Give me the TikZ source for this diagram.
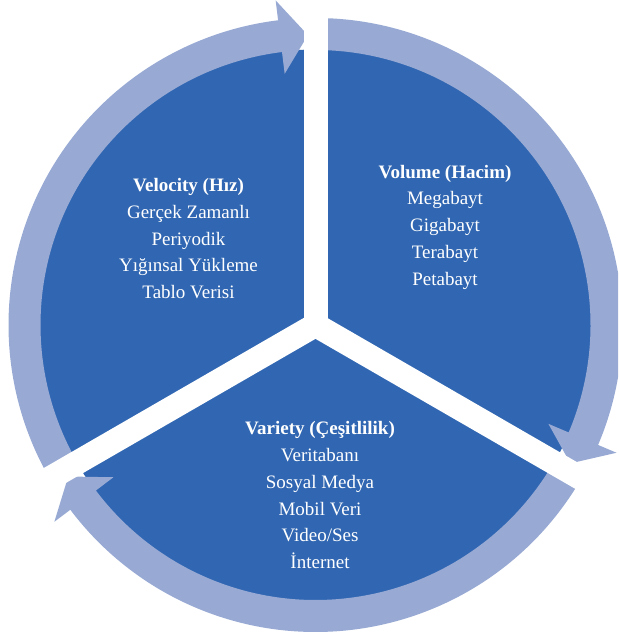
\documentclass[tikz,border=0pt]{standalone}
\usepackage{fontspec}
\setmainfont{Liberation Serif}
\definecolor{pieblue}{RGB}{49,103,178}
\definecolor{ringblue}{RGB}{152,170,212}
\begin{document}
\begin{tikzpicture}[
  lbl/.style={text=white, font=\fontsize{19pt}{22pt}\selectfont, anchor=base, inner sep=0pt},
  ringarrow/.style={fill=ringblue, draw=none},
  gapline/.style={draw=white, line width=24pt}
]
\useasboundingbox (0,0) rectangle (618pt,639pt);
\clip (0,0) rectangle (618pt,639pt);
\fill[white] (0,0) rectangle (618pt,639pt);
\coordinate (C) at (315.5pt,314pt);
% pie
\fill[pieblue] (C) circle[radius=275.5pt];
% ring arrows: tail angle, head angle
\begin{scope}[shift={(C)}]
\foreach \ta/\th in {210/90, 90/-30, -30/-150}{
  \pgfmathsetmacro{\tb}{\th+7}
  \pgfmathsetmacro{\tt}{\th+1.5}
  \fill[ringarrow] (\ta:307pt) arc[start angle=\ta, end angle=\tb, radius=307pt]
    -- (\tb:327pt) -- (\tt:290pt) -- (\tb:253pt) -- (\tb:275pt)
    arc[start angle=\tb, end angle=\ta, radius=275pt] -- cycle;
}
\end{scope}
% white gaps
\draw[gapline] (C) -- ++(90:400pt);
\draw[gapline] (C) -- ++(210:400pt);
\draw[gapline] (C) -- ++(330:400pt);
% texts
\foreach [count=\i] \t in {{\textbf{Velocity (Hız)}},{Gerçek Zamanlı},{Periyodik},{Yığınsal Yükleme},{Tablo Verisi}}{
  \node[lbl] (vel\i) at (188.5pt,{(639-191.7-(\i-1)*26.7)*1pt}) {\t};
}
\foreach [count=\i] \t in {{\textbf{Volume (Hacim)}},{Megabayt},{Gigabayt},{Terabayt},{Petabayt}}{
  \node[lbl] (vol\i) at (445pt,{(639-178.3-(\i-1)*26.7)*1pt}) {\t};
}
\foreach [count=\i] \t in {{\textbf{Variety (Çeşitlilik)}},{Veritabanı},{Sosyal Medya},{Mobil Veri},{Video/Ses},{İnternet}}{
  \node[lbl] (var\i) at (320pt,{(639-435-(\i-1)*26.7)*1pt}) {\t};
}
\end{tikzpicture}
\end{document}
